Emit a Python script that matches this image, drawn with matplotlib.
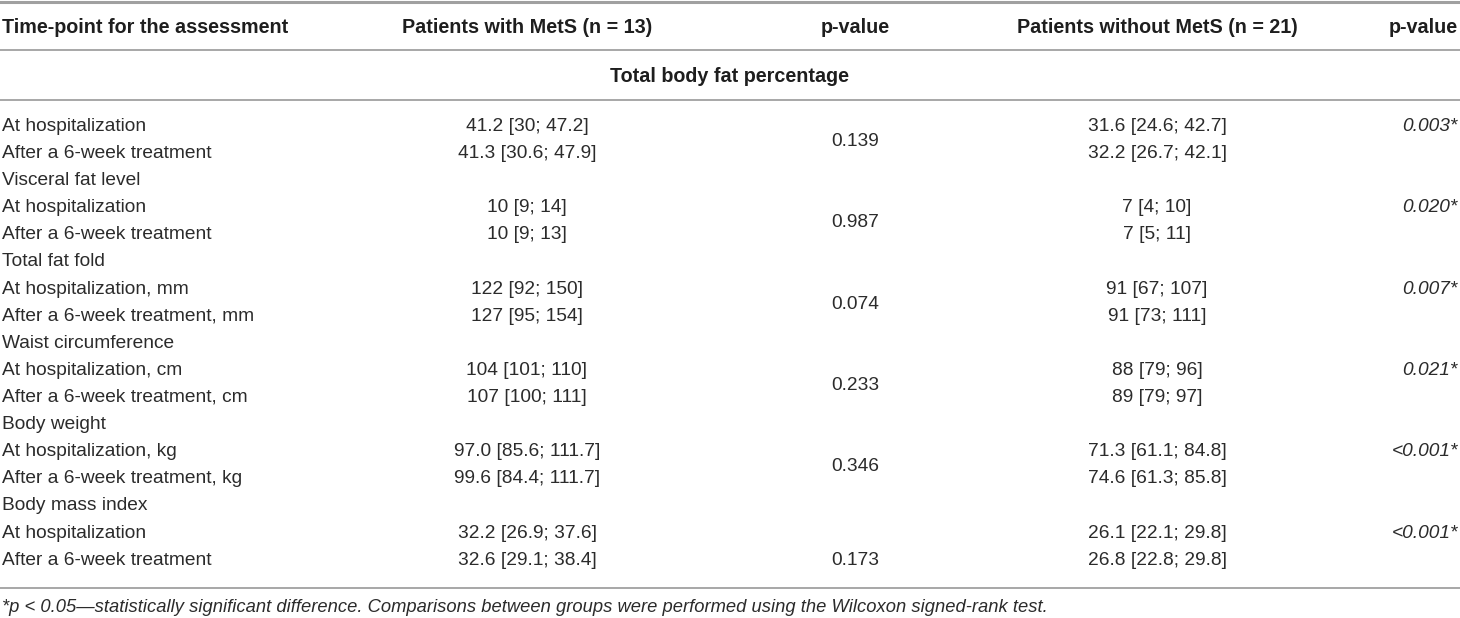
import matplotlib
matplotlib.use("Agg")
import matplotlib.pyplot as plt

# ---- data ----
col_headers = ["Time-point for the assessment", "Patients with MetS (n = 13)", "p-value",
               "Patients without MetS (n = 21)", "p-value"]
section_title = "Total body fat percentage"
groups = ["Total body fat percentage", "Visceral fat level", "Total fat fold",
          "Waist circumference", "Body weight", "Body mass index"]
row_labels = [
    ["At hospitalization", "After a 6-week treatment"],
    ["At hospitalization", "After a 6-week treatment"],
    ["At hospitalization, mm", "After a 6-week treatment, mm"],
    ["At hospitalization, cm", "After a 6-week treatment, cm"],
    ["At hospitalization, kg", "After a 6-week treatment, kg"],
    ["At hospitalization", "After a 6-week treatment"],
]
with_mets = [
    ["41.2 [30; 47.2]", "41.3 [30.6; 47.9]"],
    ["10 [9; 14]", "10 [9; 13]"],
    ["122 [92; 150]", "127 [95; 154]"],
    ["104 [101; 110]", "107 [100; 111]"],
    ["97.0 [85.6; 111.7]", "99.6 [84.4; 111.7]"],
    ["32.2 [26.9; 37.6]", "32.6 [29.1; 38.4]"],
]
p_with = ["0.139", "0.987", "0.074", "0.233", "0.346", "0.173"]
without_mets = [
    ["31.6 [24.6; 42.7]", "32.2 [26.7; 42.1]"],
    ["7 [4; 10]", "7 [5; 11]"],
    ["91 [67; 107]", "91 [73; 111]"],
    ["88 [79; 96]", "89 [79; 97]"],
    ["71.3 [61.1; 84.8]", "74.6 [61.3; 85.8]"],
    ["26.1 [22.1; 29.8]", "26.8 [22.8; 29.8]"],
]
p_without = ["0.003*", "0.020*", "0.007*", "0.021*", "<0.001*", "<0.001*"]
footnote = ("*p < 0.05\u2014statistically significant difference. Comparisons between groups "
            "were performed using the Wilcoxon signed-rank test.")

plt.rcParams["font.family"] = ["Liberation Sans", "DejaVu Sans"]

W, H = 1460, 618
fig = plt.figure(figsize=(W / 100, H / 100), dpi=100)
ax = fig.add_axes([0, 0, 1, 1])
ax.set_xlim(0, W)
ax.set_ylim(H, 0)
ax.axis("off")

txt_color = "#2b2b2b"
line_color = "#a0a0a0"
fs = 13.8
fs_head = 14.2
fs_foot = 13.2

x_label = 2
x_with = 527
x_pw = 855
x_without = 1157
x_pwo = 1458

# rules
ax.axhline(2, color=line_color, lw=2.2)
ax.axhline(49.5, color=line_color, lw=1.3)
ax.axhline(99.5, color=line_color, lw=1.3)
ax.axhline(588, color=line_color, lw=1.3)

# header
y_head = 25.5
hx = [(x_label, "left"), (x_with, "center"), (x_pw, "center"), (x_without, "center"), (x_pwo, "right")]
for (x, ha), t in zip(hx, col_headers):
    ax.text(x, y_head, t, ha=ha, va="center_baseline", fontsize=fs_head, fontweight="bold",
            color="#1e1e1e")
ax.text(W / 2, 74.5, section_title, ha="center", va="center_baseline", fontsize=fs_head,
        fontweight="bold", color="#1e1e1e")

# body
y0 = 124.5
step = 27.1
row = 0
for g in range(len(groups)):
    if g > 0:
        ax.text(x_label, y0 + row * step, groups[g], ha="left", va="center_baseline",
                fontsize=fs, color=txt_color)
        row += 1
    ya = y0 + row * step
    yb = y0 + (row + 1) * step
    for k, yy in enumerate([ya, yb]):
        ax.text(x_label, yy, row_labels[g][k], ha="left", va="center_baseline", fontsize=fs,
                color=txt_color)
        ax.text(x_with, yy, with_mets[g][k], ha="center", va="center_baseline", fontsize=fs,
                color=txt_color)
        ax.text(x_without, yy, without_mets[g][k], ha="center", va="center_baseline", fontsize=fs,
                color=txt_color)
    yp = (ya + yb) / 2 + 1.5 if g < len(groups) - 1 else yb
    ax.text(x_pw, yp, p_with[g], ha="center", va="center_baseline", fontsize=fs, color=txt_color)
    ax.text(x_pwo, ya, p_without[g], ha="right", va="center_baseline", fontsize=fs,
            style="italic", color=txt_color)
    row += 2

ax.text(x_label, 605.5, footnote, ha="left", va="center_baseline", fontsize=fs_foot,
        style="italic", color=txt_color)

fig.savefig("out.png", dpi=100, facecolor="white")
